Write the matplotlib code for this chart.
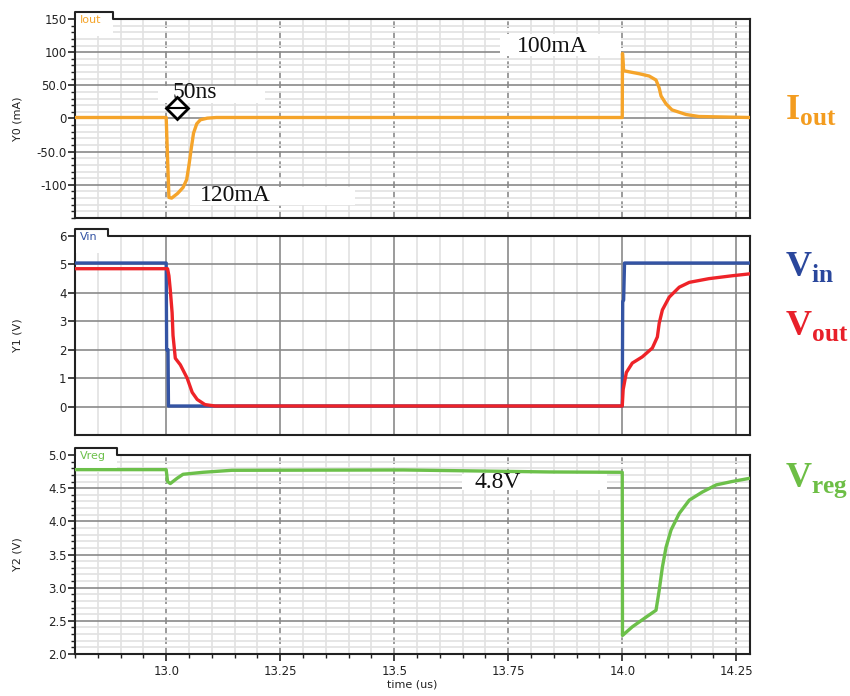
import numpy as np
import matplotlib
matplotlib.use("Agg")
import matplotlib.pyplot as plt
from matplotlib.ticker import MultipleLocator
from matplotlib.lines import Line2D
from matplotlib.patches import Rectangle

plt.rcParams['mathtext.fontset'] = 'custom'
plt.rcParams['mathtext.bf'] = 'Liberation Serif:bold'
plt.rcParams['mathtext.rm'] = 'Liberation Serif'

# ---- data (time in us) ----
iout_t = [12.8, 13.0, 13.003, 13.006, 13.012, 13.025, 13.037, 13.045, 13.05, 13.055,
          13.06, 13.067, 13.075, 13.09, 13.11, 14.0, 14.0005, 14.003, 14.037, 14.059,
          14.074, 14.081, 14.085, 14.096, 14.109, 14.14, 14.168, 14.28]
iout_v = [1.5, 1.5, -60, -119, -120, -113, -104, -92, -70, -45,
          -22, -8, -2, 0.5, 1.5, 1.5, 98, 72, 67.5, 64,
          58, 46, 34, 22, 13, 6, 3, 1.5]

vin_t = [12.8, 13.0, 13.001, 13.004, 13.005, 14.0, 14.001, 14.003, 14.005, 14.28]
vin_v = [5.05, 5.05, 2.0, 2.0, 0.02, 0.02, 3.7, 3.74, 5.05, 5.05]

vout_t = [12.8, 13.003, 13.006, 13.009, 13.013, 13.015, 13.02, 13.031, 13.046, 13.057,
          13.068, 13.085, 13.107, 14.0, 14.002, 14.009, 14.022, 14.044, 14.066, 14.077,
          14.081, 14.088, 14.103, 14.125, 14.147, 14.19, 14.24, 14.28]
vout_v = [4.85, 4.85, 4.6, 4.1, 3.3, 2.5, 1.7, 1.47, 1.0, 0.5,
          0.25, 0.07, 0.02, 0.02, 0.6, 1.2, 1.53, 1.75, 2.06, 2.45,
          2.93, 3.4, 3.85, 4.2, 4.37, 4.5, 4.6, 4.67]

vreg_t = [12.8, 13.0, 13.003, 13.009, 13.024, 13.037, 13.081, 13.144, 13.52, 13.84,
          14.0, 14.0005, 14.022, 14.053, 14.074, 14.081, 14.088, 14.096, 14.107, 14.125,
          14.147, 14.175, 14.206, 14.24, 14.28]
vreg_v = [4.78, 4.78, 4.6, 4.57, 4.65, 4.71, 4.74, 4.77, 4.775, 4.745,
          4.74, 2.28, 2.41, 2.56, 2.66, 2.96, 3.31, 3.61, 3.87, 4.12,
          4.32, 4.44, 4.55, 4.6, 4.65]

xticks = [13.0, 13.25, 13.5, 13.75, 14.0, 14.25]
xticklabels = ["13.0", "13.25", "13.5", "13.75", "14.0", "14.25"]

c_iout = "#F5A42A"
c_vin = "#3454A4"
c_vout = "#EE2328"
c_vreg = "#6CC04A"

fig = plt.figure(figsize=(8.5, 6.96), dpi=100)
ax0 = fig.add_axes([0.0882, 0.6868, 0.7941, 0.2859])
ax1 = fig.add_axes([0.0882, 0.375, 0.7941, 0.2859])
ax2 = fig.add_axes([0.0882, 0.0603, 0.7941, 0.2859])


def style(ax, ylo, yhi, ymaj, ymin, yticklabels, vdash, ylabel):
    ax.set_xlim(12.8, 14.28)
    ax.set_ylim(ylo, yhi)
    ax.set_xticks(xticks)
    ax.xaxis.set_minor_locator(MultipleLocator(0.05))
    ax.set_yticks(ymaj)
    ax.set_yticklabels(yticklabels)
    if ymin:
        ax.yaxis.set_minor_locator(MultipleLocator(ymin))
        ax.yaxis.grid(True, which='minor', color='#e2e2e2', lw=1.2)
    ax.yaxis.grid(True, which='major', color='#8a8a8a', lw=1.2)
    ax.xaxis.grid(True, which='minor', color='#e2e2e2', lw=1.2)
    ax.xaxis.grid(True, which='major', color='#8a8a8a', lw=1.2,
                  ls=(0, (4, 2)) if vdash else '-')
    ax.set_axisbelow(True)
    for s in ax.spines.values():
        s.set_color('#222222')
        s.set_linewidth(1.5)
    ax.spines['top'].set_visible(False)
    ax.tick_params(axis='y', which='major', direction='out', length=5, width=1.2,
                   labelsize=8.5, colors='#222222', pad=1)
    ax.tick_params(axis='y', which='minor', direction='out', length=3, width=1.0,
                   colors='#222222')
    ax.set_ylabel(ylabel, fontsize=8, color='#222222', labelpad=4)


def tab(ax, label, color, wpx):
    # name tab sitting on the top-left corner; replaces the top frame line there
    bb = ax.get_position()
    wfig, hfig = fig.get_size_inches() * fig.dpi
    w = wpx / (bb.width * wfig)
    h = 7.5 / (bb.height * hfig)
    x0 = 1.0 / (bb.width * wfig)
    ax.add_patch(Rectangle((x0, 1 - 2.2 * h), w - x0, 3.2 * h, transform=ax.transAxes,
                           fc='white', ec='none', clip_on=False, zorder=3))
    ax.add_line(Line2D([0, 0, w, w, 1], [1, 1 + h, 1 + h, 1, 1], transform=ax.transAxes,
                       color='#222222', lw=1.5, clip_on=False, zorder=6))
    ax.text(0.008, 1 - 0.1 * h, label, transform=ax.transAxes, color=color,
            fontsize=8, va='center', ha='left', zorder=7)


style(ax0, -150, 150, [-100, -50, 0, 50, 100, 150], 10,
      ["-100", "-50.0", "0", "50.0", "100", "150"], True, "Y0 (mA)")
style(ax1, -1, 6, [0, 1, 2, 3, 4, 5, 6], None,
      ["0", "1", "2", "3", "4", "5", "6"], False, "Y1 (V)")
style(ax2, 2.0, 5.0, [2.0, 2.5, 3.0, 3.5, 4.0, 4.5, 5.0], 0.1,
      ["2.0", "2.5", "3.0", "3.5", "4.0", "4.5", "5.0"], True, "Y2 (V)")

for ax in (ax0, ax1):
    ax.tick_params(axis='x', which='both', length=0, labelbottom=False)
ax2.set_xticklabels(xticklabels)
ax2.tick_params(axis='x', which='major', direction='out', length=5, width=1.2,
                labelsize=8.5, colors='#222222', pad=3)
ax2.tick_params(axis='x', which='minor', direction='out', length=3, width=1.0,
                colors='#222222')
ax2.set_xlabel("time (us)", fontsize=8, color='#222222', labelpad=1)

for ax in (ax0, ax1, ax2):
    ax.yaxis.set_label_coords(-0.078, 0.5)

# waveforms
ax0.plot(iout_t, iout_v, color=c_iout, lw=2.4, zorder=4)
ax1.plot(vin_t, vin_v, color=c_vin, lw=2.4, zorder=4)
ax1.plot(vout_t, vout_v, color=c_vout, lw=2.4, zorder=5)
ax2.plot(vreg_t, vreg_v, color=c_vreg, lw=2.4, zorder=4)

tab(ax0, "Iout", c_iout, 38)
tab(ax1, "Vin", c_vin, 33)
tab(ax2, "Vreg", c_vreg, 42)

# annotation boxes (white patches that hide the grid)
ax0.add_patch(Rectangle((12.9825, 24), 0.234, 25, fc='white', ec='none', zorder=2))
ax0.add_patch(Rectangle((13.0525, -130), 0.361, 26, fc='white', ec='none', zorder=2))
ax0.add_patch(Rectangle((13.731, 94), 0.267, 33, fc='white', ec='none', zorder=2))
ax2.add_patch(Rectangle((13.648, 4.47), 0.319, 0.24, fc='white', ec='none', zorder=2))

tfont = dict(family='Liberation Serif', fontsize=17, color='#111111', zorder=6)
ax0.text(13.013, 39, "50ns", va='center', ha='left', **tfont)
ax0.text(13.074, -116, "120mA", va='center', ha='left', **tfont)
ax0.text(13.770, 109, "100mA", va='center', ha='left', **tfont)
ax2.text(13.676, 4.585, "4.8V", va='center', ha='left', **tfont)

# double arrow marker for the 50ns width
ax0.plot([13.024], [16], marker='D', ms=11, mfc='white', mec='black', mew=2.0, zorder=7)
ax0.plot([13.024], [16], marker='_', ms=14, mec='black', mew=1.5, zorder=7)

# signal names on the right
lbl = dict(fontsize=26, va='baseline', ha='left')
fig.text(0.923, 0.829, r'$\mathbf{I}_{\mathbf{out}}$', color="#F39C1F", **lbl)
fig.text(0.923, 0.604, r'$\mathbf{V}_{\mathbf{in}}$', color="#2A479C", **lbl)
fig.text(0.923, 0.519, r'$\mathbf{V}_{\mathbf{out}}$', color="#E8202A", **lbl)
fig.text(0.923, 0.300, r'$\mathbf{V}_{\mathbf{reg}}$', color="#6DBE45", **lbl)

fig.savefig("out.png", dpi=100)
